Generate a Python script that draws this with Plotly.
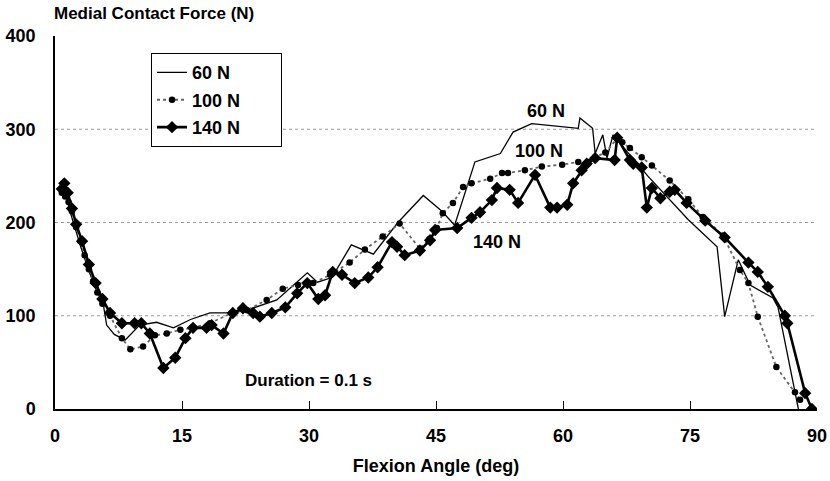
import plotly.graph_objects as go

# ---- data ----
x60 = [1.0, 2.0, 3.0, 4.0, 5.0, 5.6, 6.1, 7.0, 8.3, 10.0, 12.0, 14.0, 16.0, 18.3, 20.3, 22.7,
       26.2, 29.8, 31.0, 32.7, 35.0, 37.6, 40.5, 43.5, 45.7, 47.2, 49.6, 52.6, 54.1, 56.3,
       61.8, 62.0, 63.5, 63.8, 64.7, 65.2, 65.9, 70.0, 74.8, 78.2, 79.1, 80.7, 82.1, 84.8,
       85.4, 87.8]
y60 = [238, 205, 175, 148, 125, 118, 90, 80, 74, 90, 93, 87, 96, 103, 103, 106,
       117, 146, 136, 141, 176, 166, 200, 229, 212, 197, 265, 274, 297, 306,
       301, 312, 301, 274, 294, 269, 294, 250, 203, 174, 99, 160, 133, 119,
       109, 0]

x100 = [0.8, 1.2, 1.6, 2.0, 2.5, 3.0, 3.5, 4.0, 4.5, 5.0, 5.6, 6.5, 7.9, 8.9, 10.4, 11.8,
        13.2, 14.8, 16.2, 18.3, 20.9, 22.7, 25.0, 26.9, 28.7, 30.5, 32.5, 34.8, 36.6, 38.7,
        40.7, 43.1, 44.2, 45.1, 45.8, 47.0, 48.2, 49.2, 51.4, 52.8, 53.5, 55.5, 57.5, 59.9,
        61.8, 63.0, 63.8, 65.0, 66.4, 67.0, 67.9, 69.3, 70.5, 72.6, 74.8, 76.5, 78.9, 80.9,
        81.9, 83.0, 85.2, 87.4, 88.0]
y100 = [232, 228, 222, 212, 195, 180, 165, 150, 137, 125, 113, 100, 76, 64, 67, 79,
        81, 85, 87, 92, 103, 106, 117, 129, 133, 135, 144, 157, 171, 185,
        199, 172, 182, 194, 210, 221, 238, 242, 247, 253, 253, 256, 260, 262,
        265, 265, 270, 275, 290, 286, 280, 270, 261, 245, 225, 206, 186, 149,
        135, 99, 45, 18, 10]

x140 = [0.8, 1.1, 1.5, 2.0, 2.5, 3.2, 4.0, 4.8, 5.6, 6.5, 7.9, 9.4, 10.2, 11.2, 12.8, 14.2,
        15.4, 16.3, 17.9, 18.5, 19.9, 21.0, 22.2, 23.4, 24.2, 25.6, 27.2, 28.6, 29.8, 31.1,
        31.9, 32.8, 33.9, 35.4, 37.0, 38.1, 39.8, 40.4, 41.3, 43.1, 44.3, 44.9, 47.5, 49.2,
        50.2, 51.6, 52.2, 53.7, 54.7, 56.7, 58.5, 59.3, 60.5, 61.2, 62.2, 62.8, 63.8, 66.1,
        66.4, 67.9, 68.3, 69.3, 69.9, 70.5, 71.5, 72.6, 73.2, 74.6, 76.8, 79.1, 81.9, 83.0,
        84.2, 86.2, 86.5, 88.6, 89.4]
y140 = [236, 242, 232, 215, 198, 180, 155, 135, 118, 103, 92, 92, 92, 81, 44, 55,
        76, 87, 87, 90, 81, 103, 108, 103, 99, 103, 109, 124, 135, 118,
        122, 147, 144, 135, 141, 152, 179, 174, 165, 170, 181, 192, 194, 205,
        211, 224, 237, 235, 221, 251, 216, 216, 219, 242, 256, 263, 269, 267,
        291, 267, 263, 259, 216, 237, 226, 233, 235, 221, 202, 184, 157, 147,
        131, 100, 92, 17, 0]

x_ticks = [0, 15, 30, 45, 60, 75, 90]
y_ticks = [0, 100, 200, 300, 400]
grid_values = [100, 200, 300]

FONT = "Liberation Sans, Arial, sans-serif"
PAD = "\u00a0" * 7 + "\u200b"

fig = go.Figure()
fig.add_trace(go.Scatter(x=x60, y=y60, mode="lines", name="60 N" + PAD, legendgroup="a",
                         line=dict(color="black", width=1.3)))
fig.add_trace(go.Scatter(x=x100, y=y100, mode="lines+markers", name="100 N" + PAD,
                         legendgroup="b",
                         line=dict(color="#666666", width=1.8, dash="dot"),
                         marker=dict(symbol="circle", size=6.5, color="black")))
fig.add_trace(go.Scatter(x=x140, y=y140, mode="lines+markers", name="140 N" + PAD,
                         legendgroup="c",
                         line=dict(color="black", width=2.6),
                         marker=dict(symbol="diamond", size=9.5, color="black")))

for g in grid_values:
    fig.add_shape(type="line", xref="paper", x0=0, x1=1, yref="y", y0=g, y1=g,
                  line=dict(color="#999999", width=1, dash="dot"), layer="below")

annots = [
    ("60 N", 58.0, 320, 18),
    ("100 N", 57.2, 277, 18),
    ("140 N", 52.2, 179, 18),
    ("Duration = 0.1 s", 29.9, 31, 17),
]
for text, ax, ay, fs in annots:
    fig.add_annotation(x=ax, y=ay, text=f"<b>{text}</b>", showarrow=False,
                       font=dict(family=FONT, size=fs, color="black"))

fig.add_annotation(xref="paper", yref="paper", x=-0.004, y=1.06, xanchor="left",
                   yanchor="middle", text="<b>Medial Contact Force (N)</b>", showarrow=False,
                   font=dict(family=FONT, size=17, color="black"))

fig.update_layout(
    width=830, height=481,
    margin=dict(l=55, r=13, t=36, b=72),
    paper_bgcolor="white", plot_bgcolor="white",
    font=dict(family=FONT, size=16, color="black"),
    showlegend=True,
    legend=dict(x=0.126, y=0.954, xanchor="left", yanchor="top",
                bordercolor="black", borderwidth=1, bgcolor="white",
                font=dict(family=FONT, size=18, color="black", weight="bold"),
                itemwidth=30, tracegroupgap=1),
    xaxis=dict(range=[0, 90], tickvals=x_ticks, ticks="inside", ticklen=8,
               tickcolor="black", showgrid=False, zeroline=False, automargin=False,
               showline=True, linecolor="black", linewidth=1.5,
               tickfont=dict(family=FONT, size=18, weight="bold"),
               ticklabelstandoff=10,
               title=dict(text="<b>Flexion Angle (deg)</b>", standoff=14,
                          font=dict(family=FONT, size=18))),
    yaxis=dict(range=[0, 400], tickvals=y_ticks, ticks="", showgrid=False,
               zeroline=False, showline=True, linecolor="black", linewidth=1.5,
               automargin=False,
               tickfont=dict(family=FONT, size=18, weight="bold"),
               ticklabelstandoff=14),
)

fig.write_html("out.html")
